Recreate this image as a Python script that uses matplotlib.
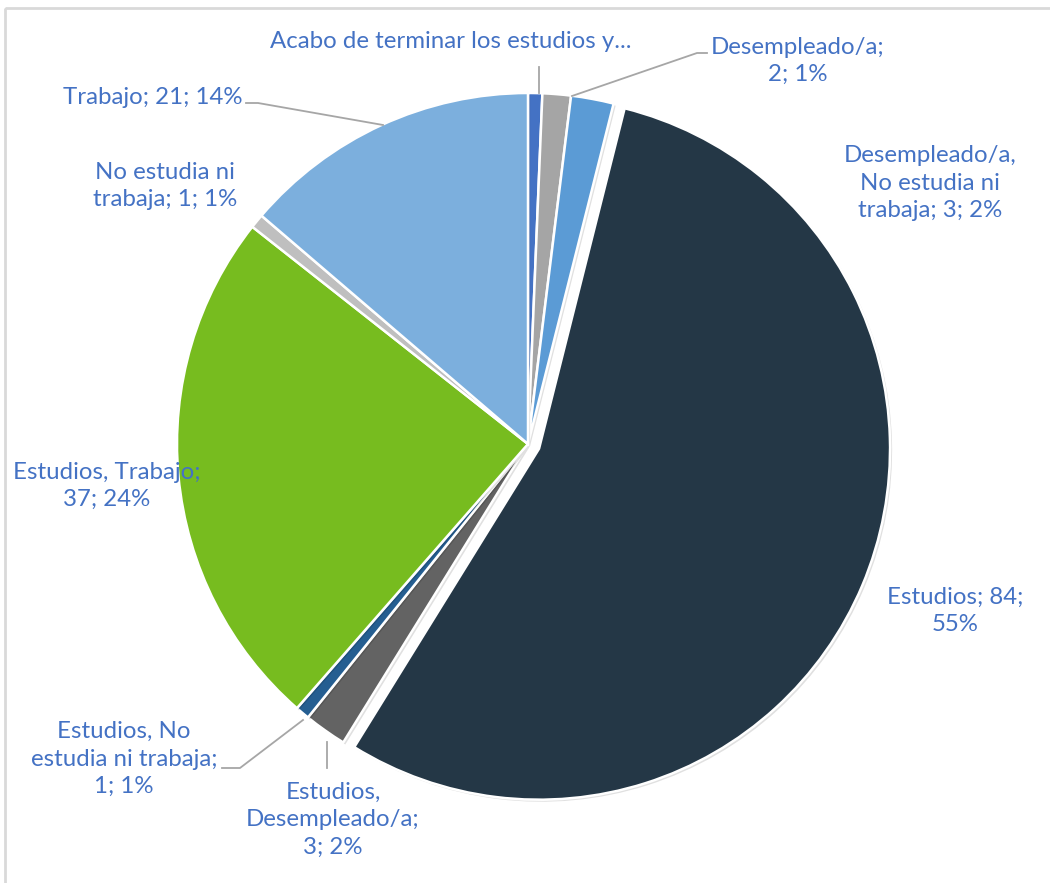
import math
import matplotlib.pyplot as plt
from matplotlib.patches import Rectangle, Wedge
import matplotlib.patheffects as pe

# data
labels = ["Acabo de terminar los estudios y...", "Desempleado/a",
          "Desempleado/a, No estudia ni trabaja", "Estudios",
          "Estudios, Desempleado/a", "Estudios, No estudia ni trabaja",
          "Estudios, Trabajo", "No estudia ni trabaja", "Trabajo"]
values = [1, 2, 3, 84, 3, 1, 37, 1, 21]
colors = ["#4472C4", "#A5A5A5", "#5B9BD5", "#243746", "#636363",
          "#255E91", "#77BC1F", "#BFBFBF", "#7CAFDD"]
explode = [0, 0, 0, 12, 0, 0, 0, 0, 0]

# label texts as shown, with their pixel anchors (x, y from top)
label_texts = ["Acabo de terminar los estudios y...",
               "Desempleado/a;\n2; 1%",
               "Desempleado/a,\nNo estudia ni\ntrabaja; 3; 2%",
               "Estudios; 84;\n55%",
               "Estudios,\nDesempleado/a;\n3; 2%",
               "Estudios, No\nestudia ni trabaja;\n1; 1%",
               "Estudios, Trabajo;\n37; 24%",
               "No estudia ni\ntrabaja; 1; 1%",
               "Trabajo; 21; 14%"]
label_pos = [(451, 42), (798, 61), (930, 183), (955, 611), (333, 820),
             (124, 759), (107, 486), (165, 186), (153, 97)]
leaders = [[(539, 67), (539, 93)],
           [(707, 53), (697, 53), (572, 96)],
           None, None,
           [(327, 742), (327, 768)],
           [(222, 768), (240, 768), (303, 720)],
           None, None,
           [(246, 103), (258, 103), (383, 125)]]

W, H = 1050, 883
fig = plt.figure(figsize=(W / 100, H / 100), dpi=100)
ax = fig.add_axes([0, 0, 1, 1])
ax.set_xlim(0, W)
ax.set_ylim(H, 0)
ax.axis("off")

cx, cy, r = 528, 444, 351
total = sum(values)
shadow = [pe.SimplePatchShadow(offset=(1.5, -1.5), shadow_rgbFace="#000000", alpha=0.12), pe.Normal()]

# wedges clockwise from the top (y axis is flipped, so angles increase clockwise)
th1 = -90.0
for v, c, ex in zip(values, colors, explode):
    th2 = th1 + v / total * 360
    mid = math.radians((th1 + th2) / 2)
    ox = cx + ex * math.cos(mid)
    oy = cy + ex * math.sin(mid)
    w = Wedge((ox, oy), r, th1, th2, facecolor=c, edgecolor="white", linewidth=1.8)
    w.set_path_effects(shadow)
    ax.add_patch(w)
    th1 = th2

for txt, (x, y) in zip(label_texts, label_pos):
    ax.text(x, y, txt, ha="center", va="center", fontsize=17.3, color="#4472C4",
            family=["Lato", "DejaVu Sans"], linespacing=1.38)

for pts in leaders:
    if pts:
        ax.plot([p[0] for p in pts], [p[1] for p in pts], color="#A6A6A6", lw=1.3)

ax.add_patch(Rectangle((5, 8), W + 10, H + 10, fill=False, edgecolor="#D9D9D9", lw=2))

fig.savefig("out.png", dpi=100)
